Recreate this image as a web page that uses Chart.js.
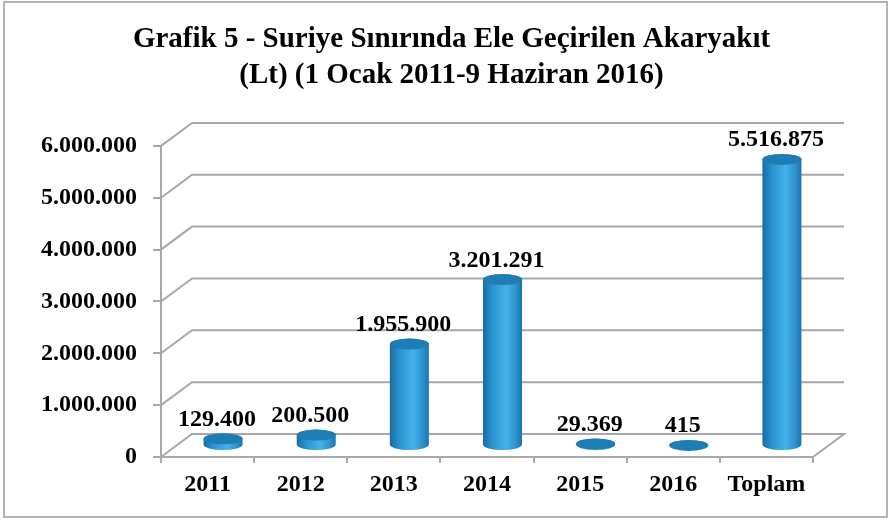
<!DOCTYPE html>
<html>
<head>
<meta charset="utf-8">
<script src="https://cdn.jsdelivr.net/npm/chart.js@4.4.1/dist/chart.umd.min.js"></script>
<style>
  html, body { margin: 0; padding: 0; background: #fff; }
  #wrap { width: 891px; height: 522px; }
</style>
</head>
<body>
<div id="wrap"><canvas id="chart" width="891" height="522"></canvas></div>
<script>
const categories = ['2011', '2012', '2013', '2014', '2015', '2016', 'Toplam'];
const fuelLitres = [129400, 200500, 1955900, 3201291, 29369, 415, 5516875];
const yTickValues = [0, 1000000, 2000000, 3000000, 4000000, 5000000, 6000000];
const titleLines = ['Grafik 5 - Suriye Sınırında Ele Geçirilen Akaryakıt', '(Lt) (1 Ocak 2011-9 Haziran 2016)'];

const SERIF = "'Liberation Serif', 'Times New Roman', serif";
const GRID = '#a8a8a8';
// depth offset of the back wall
const DEPTH_X = 31;
const DEPTH_Y = -23;

const fmt = (v) => String(Math.round(v)).replace(/\B(?=(\d{3})+(?!\d))/g, '.');

const frame = {
  id: 'frame',
  beforeDraw(chart) {
    const ctx = chart.ctx;
    ctx.save();
    ctx.fillStyle = '#fff';
    ctx.fillRect(0, 0, chart.width, chart.height);
    ctx.strokeStyle = '#b4b4b4';
    ctx.lineWidth = 2;
    ctx.strokeRect(4, 2, 883, 515);
    ctx.restore();
  }
};

const walls = {
  id: 'walls',
  beforeDatasetsDraw(chart) {
    const { ctx, chartArea, scales } = chart;
    const y = scales.y;
    ctx.save();
    ctx.strokeStyle = GRID;
    ctx.lineWidth = 2;
    yTickValues.forEach((v) => {
      const py = y.getPixelForValue(v);
      ctx.beginPath();
      ctx.moveTo(chartArea.left, py);
      ctx.lineTo(chartArea.left + DEPTH_X, py + DEPTH_Y);
      ctx.lineTo(chartArea.right + DEPTH_X, py + DEPTH_Y);
      if (v === 0) ctx.lineTo(chartArea.right, py);
      ctx.stroke();
    });
    ctx.restore();
  }
};

function drawCylinder(ctx, cx, top, base, rx, ry) {
  const grad = ctx.createLinearGradient(cx - rx, 0, cx + rx, 0);
  grad.addColorStop(0, '#1a6ba4');
  grad.addColorStop(0.25, '#2a94d2');
  grad.addColorStop(0.6, '#45b2e8');
  grad.addColorStop(0.85, '#2b91cd');
  grad.addColorStop(1, '#1c74ae');
  ctx.beginPath();
  ctx.moveTo(cx - rx, top);
  ctx.lineTo(cx - rx, base);
  ctx.ellipse(cx, base, rx, ry, 0, Math.PI, 0, true);
  ctx.lineTo(cx + rx, top);
  ctx.ellipse(cx, top, rx, ry, 0, 0, Math.PI, true);
  ctx.closePath();
  ctx.fillStyle = grad;
  ctx.fill();

  ctx.beginPath();
  ctx.ellipse(cx, top, rx, ry, 0, 0, Math.PI * 2);
  ctx.fillStyle = '#1e7db4';
  ctx.fill();
}

const cylinders = {
  id: 'cylinders',
  afterDatasetsDraw(chart) {
    const ctx = chart.ctx;
    const meta = chart.getDatasetMeta(0);
    ctx.save();
    meta.data.forEach((bar, i) => {
      const cx = bar.x + DEPTH_X / 2;
      const top = bar.y + DEPTH_Y / 2;
      const base = bar.base + DEPTH_Y / 2;
      drawCylinder(ctx, cx, top, base, 19.5, 5.5);

      ctx.fillStyle = '#000';
      ctx.font = 'bold 24px ' + SERIF;
      ctx.textAlign = 'center';
      ctx.textBaseline = 'alphabetic';
      ctx.fillText(fmt(fuelLitres[i]), cx - 6, top - 13);
    });
    ctx.restore();
  }
};

new Chart(document.getElementById('chart'), {
  type: 'bar',
  data: {
    labels: categories,
    datasets: [{
      data: fuelLitres,
      backgroundColor: 'rgba(0,0,0,0)',
      borderWidth: 0
    }]
  },
  options: {
    responsive: false,
    animation: false,
    layout: { padding: { left: 12, right: 0, top: 0, bottom: 0 } },
    plugins: {
      legend: { display: false },
      tooltip: { enabled: false },
      title: {
        display: true,
        text: titleLines,
        color: '#000',
        font: { family: SERIF, size: 29, weight: 'bold', lineHeight: 1.24 },
        padding: { top: 22, bottom: 52 }
      }
    },
    scales: {
      x: {
        afterFit(scale) { scale.height = 65; },
        grid: { display: true, drawOnChartArea: false, drawTicks: true, tickLength: 6, color: GRID, lineWidth: 2, offset: true },
        border: { display: true, color: GRID, width: 2 },
        ticks: { color: '#000', padding: 7, font: { family: SERIF, size: 24, weight: 'bold' } }
      },
      y: {
        min: 0,
        max: 6000000,
        afterFit(scale) { scale.width = 149; },
        afterBuildTicks(scale) { scale.ticks = yTickValues.map((v) => ({ value: v })); },
        grid: { display: true, drawOnChartArea: false, drawTicks: true, tickLength: 8, color: GRID, lineWidth: 2 },
        border: { display: true, color: GRID, width: 2 },
        ticks: {
          color: '#000',
          padding: 16,
          font: { family: SERIF, size: 24, weight: 'bold' },
          callback: (v) => fmt(v)
        }
      },
      // empty right-hand space so the title stays centred on the whole picture
      side: {
        type: 'linear',
        position: 'right',
        display: true,
        afterFit(scale) { scale.width = 78; },
        grid: { display: false },
        border: { display: false },
        ticks: { display: false }
      }
    }
  },
  plugins: [frame, walls, cylinders]
});
</script>
</body>
</html>
